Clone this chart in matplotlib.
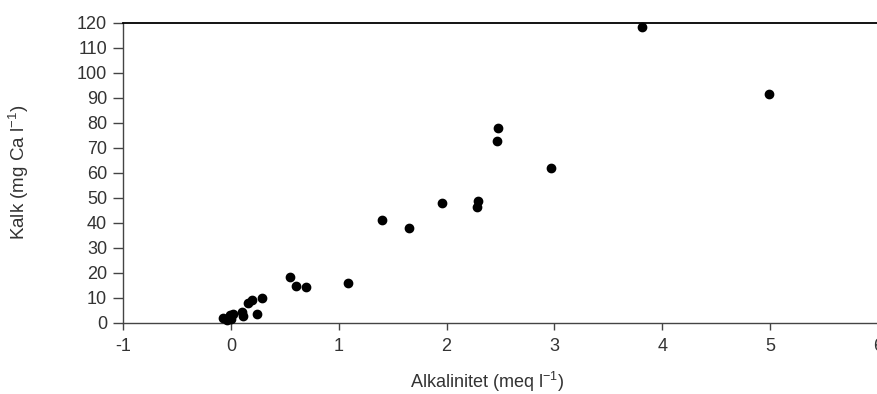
import numpy as np
import matplotlib
matplotlib.use("Agg")
import matplotlib.pyplot as plt

plt.rcParams['font.family'] = ['Liberation Sans', 'DejaVu Sans']
plt.rcParams['mathtext.fontset'] = 'custom'
plt.rcParams['mathtext.rm'] = 'Liberation Sans'
plt.rcParams['axes.unicode_minus'] = False

# Alkalinitet (meq l-1) og kalk (mg Ca l-1)
alkalinitet = [-0.07, -0.04, -0.01, 0.00, 0.02, 0.10, 0.11, 0.16, 0.20, 0.24,
               0.29, 0.55, 0.60, 0.70, 1.09, 1.40, 1.65, 1.96, 2.28, 2.29,
               2.47, 2.48, 2.97, 3.81, 4.99]
kalk = [1.9, 1.2, 3.0, 1.5, 3.5, 4.4, 2.8, 7.8, 9.0, 3.5,
        10.0, 18.4, 14.8, 14.2, 16.0, 41.1, 38.0, 48.0, 46.3, 48.8,
        72.8, 77.8, 62.0, 118.4, 91.4]

xticks = [-1, 0, 1, 2, 3, 4, 5, 6]
yticks = list(range(0, 121, 10))

txt = '#333333'
fs = 13
fig = plt.figure(figsize=(8.77, 3.94), dpi=100)
ax = fig.add_axes([0.1403, 0.181, 0.8608, 0.7614])

ax.scatter(alkalinitet, kalk, s=36, color='black', zorder=3, clip_on=False)

ax.set_xlim(-1, 6)
ax.set_ylim(0, 120)
ax.set_xticks(xticks)
ax.set_yticks(yticks)

ax.spines['right'].set_visible(False)
for s in ['left', 'bottom']:
    ax.spines[s].set_color('#444444')
    ax.spines[s].set_linewidth(1.0)
ax.spines['top'].set_color('black')
ax.spines['top'].set_linewidth(1.3)

ax.tick_params(axis='y', length=7.5, width=1, color='#444444', pad=4,
               labelsize=fs, labelcolor=txt)
ax.tick_params(axis='x', length=5, width=1, color='#444444', pad=6,
               labelsize=fs, labelcolor=txt)

ax.set_ylabel(r'Kalk (mg Ca l$^{\mathregular{-1}}$)', fontsize=13.5, color=txt)
ax.yaxis.set_label_coords(-0.122, 0.5)
ax.set_xlabel(r'Alkalinitet (meq l$^{\mathregular{-1}}$)', fontsize=fs, color=txt)
ax.xaxis.set_label_coords(0.482, -0.158)

fig.savefig('out.png', dpi=100)
